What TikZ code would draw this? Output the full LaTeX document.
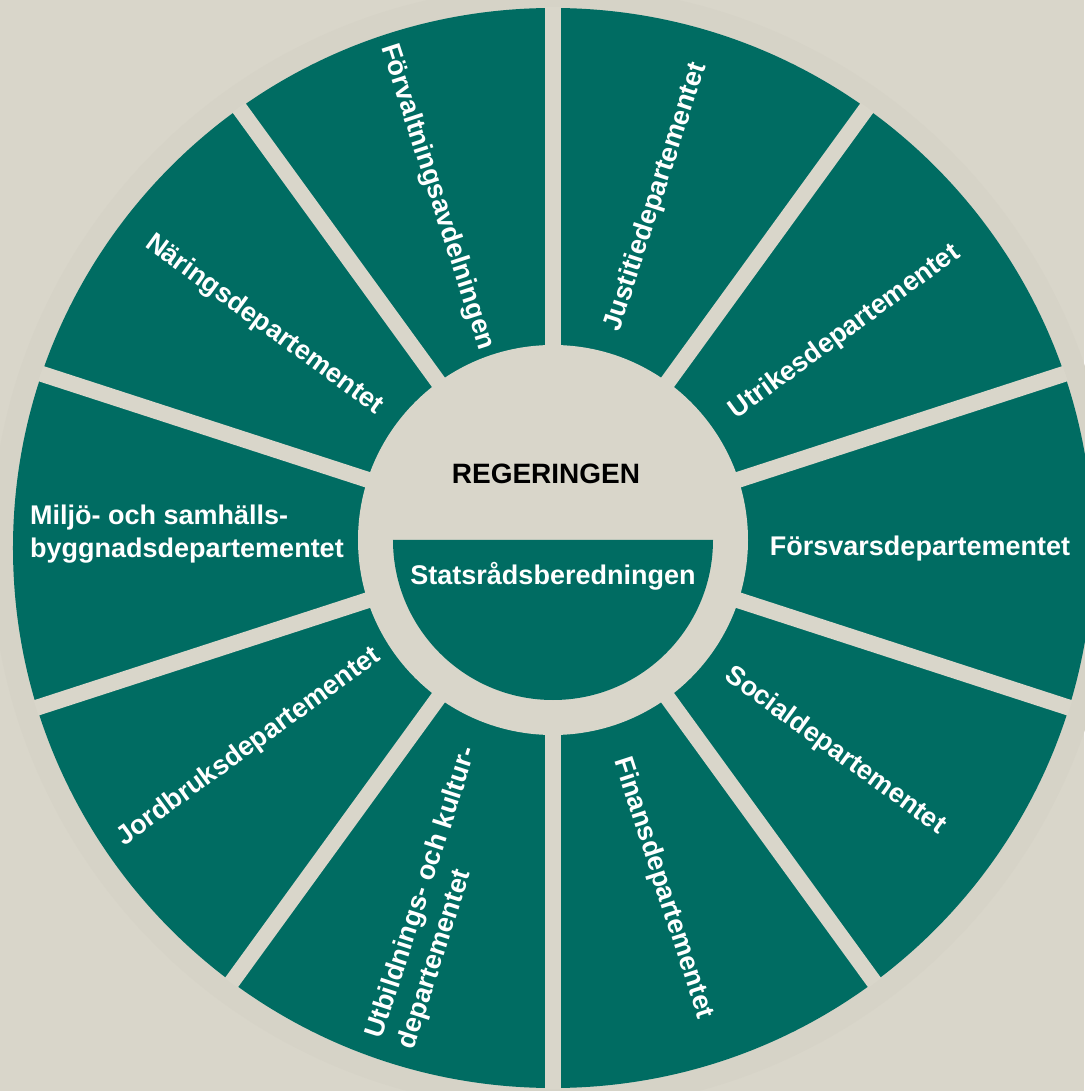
\documentclass[tikz,border=0pt]{standalone}
\usepackage{fontspec}
\setmainfont{Liberation Sans}
\definecolor{bgbeige}{RGB}{217,214,202}
\definecolor{ringbeige}{RGB}{214,211,199}
\definecolor{wheelteal}{RGB}{0,108,98}
\begin{document}
\begin{tikzpicture}[x=1pt,y=1pt,
  lbl/.style={text=white, font=\bfseries\fontsize{27}{33}\selectfont, inner sep=0pt},
  titlelbl/.style={text=black, font=\bfseries\fontsize{28}{33}\selectfont, inner sep=0pt},
  gapline/.style={draw=bgbeige, line width=16pt}]
\useasboundingbox (-553,-551) rectangle (531,540);
\fill[bgbeige] (-553,-551) rectangle (531,540);
\fill[ringbeige] (0,-8) circle (562);
\fill[wheelteal] (0,-8) circle (540);
\begin{scope}
  \clip (0,-8) circle (541);
  \foreach \a in {18,54,...,342} \draw[gapline] (0,0) -- (\a:640);
\end{scope}
\fill[bgbeige] (0,0) circle (195);
\fill[wheelteal] (-160,0) arc[start angle=180,end angle=360,radius=160] -- cycle;
\node[titlelbl] (reg) at (-7,66) {REGERINGEN};
\node[lbl] (stat) at (0,-36) {Statsrådsberedningen};
\node[lbl] (fors) at (367,-9) {Försvarsdepartementet};
\node[lbl, rotate=36] (utr) at (292,208) {Utrikesdepartementet};
\node[lbl, rotate=72] (just) at (103,343) {Justitiedepartementet};
\node[lbl, rotate=-72] (forv) at (-116,343) {Förvaltningsavdelningen};
\node[lbl, rotate=-36] (nar) at (-289,215) {Näringsdepartementet};
\node[lbl, align=left, anchor=west] (milj) at (-523,6) {Miljö- och samhälls-\\byggnadsdepartementet};
\node[lbl, rotate=36] (jord) at (-304,-207) {Jordbruksdepartementet};
\node[lbl, align=left, rotate=72] (utb) at (-115,-358) {Utbildnings- och kultur-\\departementet};
\node[lbl, rotate=-72] (fin) at (110,-348) {Finansdepartementet};
\node[lbl, rotate=-36] (soc) at (282,-211) {Socialdepartementet};
\end{tikzpicture}
\end{document}
